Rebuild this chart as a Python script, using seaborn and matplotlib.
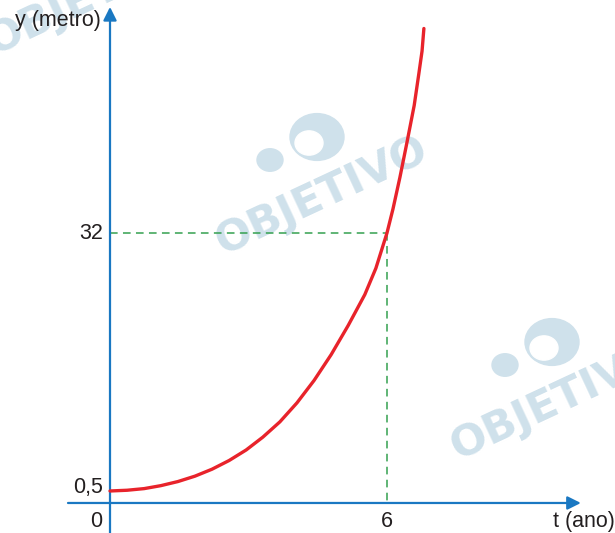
import matplotlib
matplotlib.use("Agg")
import matplotlib.pyplot as plt
import seaborn as sns
from matplotlib.patches import Circle

# points (0,5 at t=0, 32 at t=6)
t_ano = [0, 0.37, 0.74, 1.10, 1.47, 1.84, 2.21, 2.58, 2.95, 3.31, 3.68, 4.05,
         4.42, 4.79, 5.16, 5.52, 5.76, 6.0, 6.13, 6.28, 6.43, 6.59, 6.69, 6.76, 6.80]
y_metro = [0.5, 0.59, 0.79, 1.15, 1.65, 2.31, 3.16, 4.22, 5.51, 7.07, 8.94, 11.26,
           13.99, 17.14, 20.71, 24.48, 27.70, 32.0, 34.93, 38.78, 42.97, 47.58,
           51.43, 54.21, 56.97]

marked_t = 6
marked_y = 32
x_ticks = [0, 6]
x_tick_labels = ["0", "6"]
y_ticks = [0.5, 32]
y_tick_labels = ["0,5", "32"]

sns.set_style("white")
plt.rcParams["font.family"] = ["Liberation Sans", "DejaVu Sans"]

BLUE = "#1a78c2"
RED = "#e8232b"
GREEN = "#34a050"
WATER = "#cfe1eb"

fig = plt.figure(figsize=(6.15, 5.33), dpi=100)
ax = fig.add_axes([0, 0, 1, 1])
ax.set_xlim(-2.383, 10.94)
ax.set_ylim(-4.63, 60.45)
ax.axis("off")

x_axis_y = -0.965  # where the t axis sits

# watermarks (pixel centres of the "OBJETIVO" text)
for cx, cy in [(93, -5), (322, 195), (557, 400)]:
    fx, fy = cx / 615, 1 - cy / 533
    ax.text(fx, fy, "OBJETIVO", transform=ax.transAxes, fontsize=31,
            fontweight="bold", family="DejaVu Sans", color=WATER,
            rotation=25, ha="center", va="center", zorder=1)
    big = Circle(((cx - 5) / 615, 1 - (cy - 58) / 533), 27 / 615,
                 transform=ax.transAxes, color=WATER, zorder=1)
    inner = Circle(((cx - 13) / 615, 1 - (cy - 52) / 533), 14 / 615,
                   transform=ax.transAxes, color="white", zorder=1)
    small = Circle(((cx - 52) / 615, 1 - (cy - 35) / 533), 13 / 615,
                   transform=ax.transAxes, color=WATER, zorder=1)
    for p in (big, inner, small):
        ax.add_patch(p)

# dashed guide lines
ax.plot([0, marked_t], [marked_y, marked_y], color=GREEN, lw=1.1,
        dashes=(5, 3.5), zorder=2)
ax.plot([marked_t, marked_t], [marked_y, x_axis_y], color=GREEN, lw=1.1,
        dashes=(5, 3.5), zorder=2)

# the curve
sns.lineplot(x=t_ano, y=y_metro, ax=ax, color=RED, linewidth=2.4,
             sort=False, estimator=None, zorder=4)

# axes with arrows
ax.annotate("", xy=(10.2, x_axis_y), xytext=(-0.91, x_axis_y),
            arrowprops=dict(arrowstyle="-|>", color=BLUE, lw=1.6,
                            mutation_scale=20, shrinkA=0, shrinkB=0), zorder=3)
ax.annotate("", xy=(0, 59.6), xytext=(0, -4.63),
            arrowprops=dict(arrowstyle="-|>", color=BLUE, lw=1.6,
                            mutation_scale=20, shrinkA=0, shrinkB=0), zorder=3)

# labels
fs = 15.5
for t, lab in zip(x_ticks, x_tick_labels):
    xx = t - 0.3 if t == 0 else t
    ax.text(xx, -2.0, lab, fontsize=fs, ha="center", va="top", color="#231f20")
for yv, lab in zip(y_ticks, y_tick_labels):
    yy = yv + 0.4 if yv < 1 else yv
    ax.text(-0.15, yy, lab, fontsize=fs, ha="right", va="center", color="#231f20")

ax.text(-0.2, 58.0, "y (metro)", fontsize=fs, ha="right", va="center", color="#231f20")
ax.text(10.94, -2.0, "t (ano)", fontsize=fs, ha="right", va="top", color="#231f20")

fig.savefig("out.png", dpi=100)
